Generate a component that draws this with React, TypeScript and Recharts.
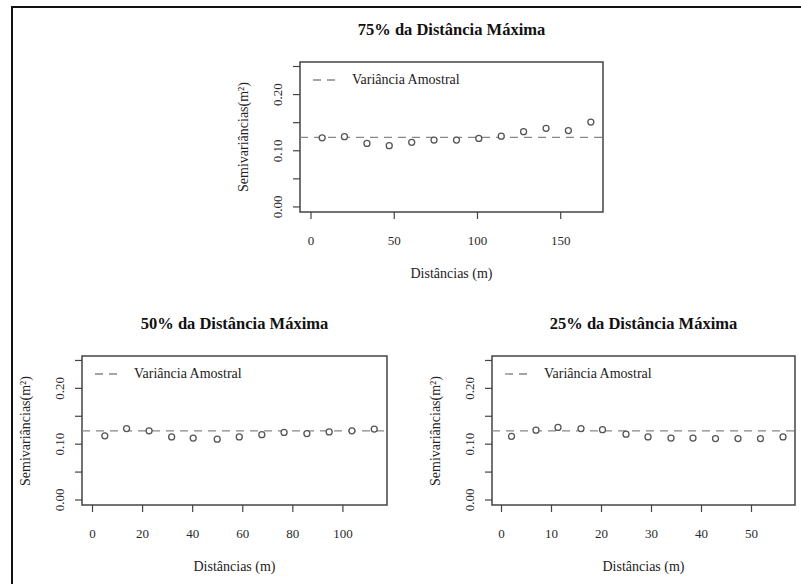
import { ScatterChart, Scatter, XAxis, YAxis, ReferenceLine, ReferenceArea } from "recharts";

const SERIF = '"Liberation Serif", "Times New Roman", serif';

// semivariance at each lag distance
const lag75 = [6.7, 20.1, 33.6, 47.0, 60.5, 73.9, 87.4, 100.8, 114.3, 127.7, 141.2, 154.6, 168.1];
const semi75 = [0.123, 0.125, 0.113, 0.109, 0.115, 0.119, 0.119, 0.122, 0.126, 0.134, 0.140, 0.136, 0.151];

const lag50 = [4.9, 13.6, 22.6, 31.6, 40.2, 49.8, 58.6, 67.6, 76.5, 85.6, 94.5, 103.6, 112.5];
const semi50 = [0.115, 0.128, 0.124, 0.113, 0.111, 0.109, 0.113, 0.117, 0.121, 0.119, 0.122, 0.124, 0.127];

const lag25 = [2.0, 6.9, 11.3, 15.9, 20.2, 24.9, 29.3, 33.9, 38.3, 42.8, 47.3, 51.8, 56.3];
const semi25 = [0.114, 0.125, 0.130, 0.128, 0.126, 0.118, 0.113, 0.111, 0.111, 0.110, 0.110, 0.110, 0.113];

const sampleVariance = 0.124;

const xTicks75 = [0, 50, 100, 150];
const xTicks50 = [0, 20, 40, 60, 80, 100];
const xTicks25 = [0, 10, 20, 30, 40, 50];
const yTicks = [0, 0.05, 0.1, 0.15, 0.2, 0.25];
const yLabeled = [0, 0.1, 0.2];

const Y_DOMAIN: [number, number] = [-0.009, 0.258];

interface PanelProps {
  title: string;
  left: number;
  top: number;
  width: number;
  height: number;
  xDomain: [number, number];
  xTicks: number[];
  lags: number[];
  values: number[];
}

const XTick = ({ x, y, payload }: any) => (
  <text x={x} y={y + 19} textAnchor="middle" dominantBaseline="central" fontFamily={SERIF} fontSize={13} fill="#2a2a2a">
    {payload.value}
  </text>
);

const YTick = ({ x, y, payload }: any) => {
  const v = Math.round(payload.value * 100) / 100;
  if (!yLabeled.includes(v)) return <g />;
  const cx = x - 13;
  return (
    <text
      x={cx}
      y={y}
      transform={`rotate(-90, ${cx}, ${y})`}
      textAnchor="middle"
      dominantBaseline="central"
      fontFamily={SERIF}
      fontSize={13}
      fill="#2a2a2a"
    >
      {v.toFixed(2)}
    </text>
  );
};

const Dot = (p: any) => <circle cx={p.cx} cy={p.cy} r={3} fill="#fff" stroke="#555" strokeWidth={1.3} />;

function Panel({ title, left, top, width, height, xDomain, xTicks, lags, values }: PanelProps) {
  const data = lags.map((d, i) => ({ d, g: values[i] }));
  const textBase = { position: "absolute" as const, fontFamily: SERIF, whiteSpace: "nowrap" as const, color: "#222" };

  return (
    <>
      <div style={{ position: "absolute", left: left - 80, top: top - 20 }}>
        <ScatterChart width={width + 100} height={height + 75} margin={{ top: 20, right: 20, bottom: 30, left: 40 }}>
          <XAxis
            type="number"
            dataKey="d"
            domain={xDomain}
            ticks={xTicks}
            allowDataOverflow
            axisLine={false}
            tickSize={7}
            tickLine={{ stroke: "#444", strokeWidth: 1.2 }}
            tick={<XTick />}
            height={25}
          />
          <YAxis
            type="number"
            dataKey="g"
            domain={Y_DOMAIN}
            ticks={yTicks}
            allowDataOverflow
            axisLine={false}
            tickSize={7}
            tickLine={{ stroke: "#444", strokeWidth: 1.2 }}
            tick={<YTick />}
            width={40}
          />
          <ReferenceArea
            x1={xDomain[0]}
            x2={xDomain[1]}
            y1={Y_DOMAIN[0]}
            y2={Y_DOMAIN[1]}
            fill="none"
            fillOpacity={0}
            stroke="#444"
            strokeWidth={1.5}
          />
          <ReferenceLine y={sampleVariance} stroke="#888" strokeWidth={1.3} strokeDasharray="8 6" />
          <Scatter data={data} shape={<Dot />} isAnimationActive={false} />
        </ScatterChart>
      </div>

      <div style={{ ...textBase, left: left + width / 2, top: top - 32, transform: "translate(-50%, -50%)", fontSize: 16.5, fontWeight: "bold", color: "#111" }}>
        {title}
      </div>
      <div style={{ ...textBase, left: left + width / 2, top: top + height + 62, transform: "translate(-50%, -50%)", fontSize: 14 }}>
        Distâncias (m)
      </div>
      <div style={{ ...textBase, left: left - 56, top: top + height / 2, transform: "translate(-50%, -50%) rotate(-90deg)", fontSize: 14 }}>
        Semivariâncias(m²)
      </div>
      <div style={{ ...textBase, left: left + 13, top: top + 18, display: "flex", alignItems: "center", transform: "translateY(-50%)", fontSize: 14 }}>
        <svg width={27} height={4} style={{ marginRight: 12 }}>
          <line x1={0} y1={2} x2={27} y2={2} stroke="#888" strokeWidth={1.3} strokeDasharray="8 6" />
        </svg>
        Variância Amostral
      </div>
    </>
  );
}

export default function App() {
  return (
    <div style={{ position: "absolute", left: 0, top: 0, width: 801, height: 584, background: "#fff", overflow: "hidden" }}>
      <div style={{ position: "absolute", left: 11, top: 6, width: 800, height: 590, borderTop: "2px solid #111", borderLeft: "2px solid #111" }} />
      <Panel
        title="75% da Distância Máxima"
        left={300}
        top={62}
        width={303}
        height={150}
        xDomain={[-6.6, 175.4]}
        xTicks={xTicks75}
        lags={lag75}
        values={semi75}
      />
      <Panel
        title="50% da Distância Máxima"
        left={82}
        top={356}
        width={305}
        height={149}
        xDomain={[-4.2, 117.6]}
        xTicks={xTicks50}
        lags={lag50}
        values={semi50}
      />
      <Panel
        title="25% da Distância Máxima"
        left={492}
        top={356}
        width={303}
        height={149}
        xDomain={[-1.9, 58.7]}
        xTicks={xTicks25}
        lags={lag25}
        values={semi25}
      />
    </div>
  );
}
